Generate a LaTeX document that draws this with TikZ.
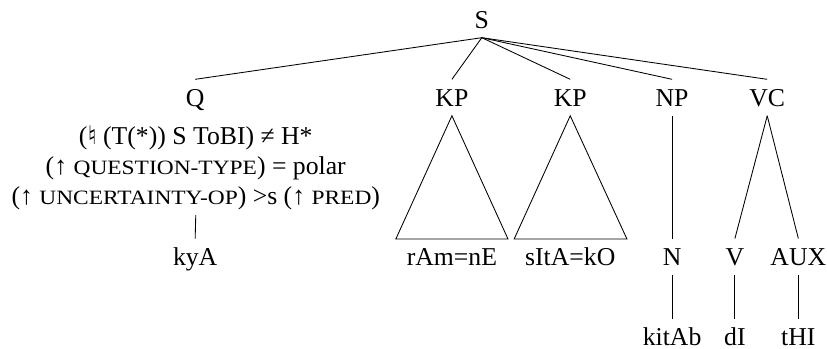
\documentclass[tikz,border=0pt]{standalone}
\usepackage{fontspec}
\setmainfont{Liberation Serif}
\newfontfamily\symfont{DejaVu Sans}
\newfontfamily\capsfont[FakeStretch=1.15]{Liberation Serif}
\newcommand{\fsc}[1]{{\capsfont\fontsize{9.5pt}{14pt}\selectfont #1}}

\begin{document}
\begin{tikzpicture}[font=\fontsize{12pt}{14pt}\selectfont,
    cat/.style={anchor=base, inner sep=4.3pt, text height=8pt, text depth=0pt},
    ann/.style={anchor=north, align=center, inner sep=2pt}]
        \useasboundingbox (0,0) rectangle (13.56,-5.72);

        % root
        \node[cat] (s) at (7.90,-0.46) {S};

        % daughters of S
        \node[cat] (q)   at (3.20,-1.74)  {Q};
        \node[cat] (kpa) at (7.41,-1.74)  {KP};
        \node[cat] (kpb) at (9.35,-1.74)  {KP};
        \node[cat] (np)  at (11.02,-1.74) {NP};
        \node[cat] (vc)  at (12.58,-1.74) {VC};

        % f-description under Q
        \node[ann] (qann) at (3.21,-1.99) {({\symfont ♮} (T(*)) S ToBI) ≠ H*\\
            (↑ \fsc{QUESTION-TYPE}) = polar\\
            (↑ \fsc{UNCERTAINTY-OP}) >s (↑ \fsc{PRED})};

        % second level
        \node[cat] (kya) at (3.20,-4.35)  {kyA};
        \node[cat] (ram) at (7.41,-4.35)  {rAm=nE};
        \node[cat] (sit) at (9.35,-4.35)  {sItA=kO};
        \node[cat] (n)   at (11.02,-4.35) {N};
        \node[cat] (v)   at (12.05,-4.35) {V};
        \node[cat] (aux) at (13.09,-4.35) {AUX};

        % words
        \node[cat] (kitab) at (11.02,-5.67) {kitAb};
        \node[cat] (di)    at (12.05,-5.67) {dI};
        \node[cat] (thi)   at (13.09,-5.67) {tHI};

        % triangle corners
        \coordinate (kpa-l) at (6.49,-3.92);
        \coordinate (kpa-r) at (8.33,-3.92);
        \coordinate (kpb-l) at (8.43,-3.92);
        \coordinate (kpb-r) at (10.28,-3.92);

        % branches
        \foreach \d in {q,kpa,kpb,np,vc}
            \draw (s.south) -- (\d.north);
        \draw (qann.south) -- (kya.north);
        \draw (kpa.south) -- (kpa-l) -- (kpa-r) -- cycle;
        \draw (kpb.south) -- (kpb-l) -- (kpb-r) -- cycle;
        \draw (np.south) -- (n.north);
        \draw (vc.south) -- (v.north);
        \draw (vc.south) -- (aux.north);
        \draw (n.south) -- (kitab.north);
        \draw (v.south) -- (di.north);
        \draw (aux.south) -- (thi.north);
    \end{tikzpicture}
\end{document}
